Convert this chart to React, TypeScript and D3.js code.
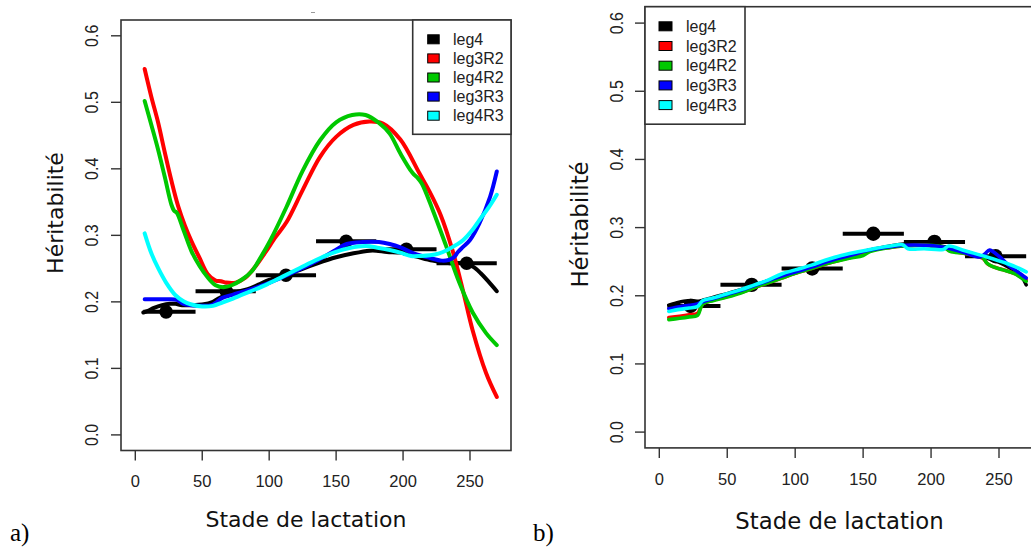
import React from "react";
import * as d3 from "d3";

// ---------- DATA ----------
const xTicks = [0, 50, 100, 150, 200, 250];
const yTicks = [0.0, 0.1, 0.2, 0.3, 0.4, 0.5, 0.6];
const seriesNames = ["leg4", "leg3R2", "leg4R2", "leg3R3", "leg4R3"];
const seriesColors = ["#000000", "#ff0000", "#00c800", "#0000ff", "#00ffff"];

// classes of lactation stage (start, end) with mean heritability estimate
const classStart = [6, 45, 90, 135, 180, 225];
const classEnd = [45, 90, 135, 180, 225, 270];
const classMid = [23, 68, 112.5, 157.5, 202.5, 247.5];
const classH = [0.185, 0.216, 0.24, 0.291, 0.279, 0.258];

// panel a) curves  [day, heritability]
const blackA: [number, number][] = [[6,0.184],[10,0.187],[14,0.191],[20,0.195],[26,0.197],[30,0.197],[35,0.195],[42,0.195],[50,0.196],[58,0.2],[62,0.205],[68,0.211],[76,0.215],[84,0.219],[92,0.226],[100,0.233],[112,0.241],[124,0.249],[136,0.258],[150,0.267],[163,0.273],[175,0.277],[180,0.277],[188,0.275],[198,0.274],[210,0.268],[222,0.262],[235,0.258],[245,0.258],[252,0.253],[258,0.243],[264,0.23],[270,0.216]];
const redA: [number, number][] = [[7,0.55],[12,0.508],[17,0.47],[22,0.425],[27,0.382],[32,0.344],[37,0.315],[42,0.291],[48,0.266],[54,0.242],[60,0.232],[64,0.231],[68,0.229],[75,0.229],[82,0.236],[90,0.254],[97,0.274],[105,0.298],[113,0.32],[125,0.368],[138,0.418],[150,0.448],[163,0.466],[175,0.471],[185,0.468],[198,0.444],[212,0.394],[220,0.365],[228,0.331],[237,0.277],[245,0.215],[252,0.157],[262,0.093],[270,0.057]];
const greenA: [number, number][] = [[7,0.502],[12,0.466],[17,0.429],[22,0.388],[27,0.346],[29,0.337],[31,0.334],[36,0.308],[42,0.276],[48,0.254],[54,0.237],[60,0.225],[66,0.222],[72,0.225],[80,0.234],[87,0.246],[94,0.268],[101,0.293],[113,0.343],[125,0.397],[138,0.443],[150,0.47],[162,0.481],[172,0.481],[182,0.469],[190,0.453],[198,0.423],[207,0.394],[211,0.386],[214,0.378],[222,0.339],[232,0.285],[242,0.229],[252,0.184],[262,0.153],[270,0.135]];
const blueA: [number, number][] = [[7,0.204],[15,0.204],[25,0.204],[31,0.203],[36,0.197],[42,0.195],[50,0.194],[57,0.195],[61,0.2],[65,0.206],[73,0.211],[85,0.218],[98,0.227],[110,0.237],[123,0.249],[135,0.261],[148,0.276],[158,0.287],[170,0.29],[182,0.29],[190,0.287],[198,0.282],[208,0.273],[220,0.266],[229,0.262],[234,0.263],[238,0.267],[241,0.275],[245,0.283],[250,0.293],[257,0.318],[265,0.358],[270,0.396]];
const cyanA: [number, number][] = [[7,0.303],[12,0.273],[17,0.251],[23,0.229],[30,0.21],[36,0.201],[42,0.196],[50,0.193],[58,0.194],[65,0.199],[73,0.205],[85,0.215],[98,0.226],[110,0.238],[123,0.251],[135,0.263],[148,0.274],[160,0.281],[172,0.284],[182,0.281],[190,0.278],[198,0.274],[206,0.269],[213,0.269],[220,0.27],[227,0.273],[233,0.278],[240,0.286],[245,0.293],[251,0.306],[257,0.323],[264,0.342],[270,0.361]];

// panel b) curves
const blackB: [number, number][] = [[7,0.186],[12,0.189],[18,0.192],[24,0.193],[29,0.192],[33,0.194],[40,0.198],[50,0.203],[60,0.209],[70,0.215],[80,0.222],[90,0.229],[100,0.235],[112,0.242],[125,0.25],[140,0.259],[155,0.267],[170,0.273],[180,0.276],[195,0.276],[210,0.272],[225,0.265],[240,0.256],[250,0.249],[258,0.241],[265,0.232],[268,0.224],[270,0.216]];
const redB: [number, number][] = [[7,0.168],[15,0.17],[22,0.172],[28,0.174],[32,0.188],[40,0.194],[50,0.199],[60,0.205],[70,0.212],[80,0.219],[90,0.226],[100,0.233],[112,0.24],[125,0.248],[140,0.256],[150,0.261],[155,0.266],[170,0.271],[180,0.273],[195,0.274],[210,0.27],[214,0.266],[225,0.262],[238,0.255],[242,0.246],[248,0.241],[255,0.237],[262,0.232],[270,0.223]];
const greenB: [number, number][] = [[7,0.165],[15,0.167],[22,0.169],[28,0.171],[32,0.188],[40,0.193],[50,0.198],[60,0.204],[70,0.212],[80,0.219],[90,0.226],[100,0.233],[112,0.24],[125,0.248],[140,0.255],[150,0.259],[155,0.265],[170,0.271],[180,0.273],[195,0.274],[210,0.271],[214,0.265],[225,0.262],[238,0.256],[241,0.248],[245,0.243],[253,0.238],[262,0.232],[270,0.221]];
const blueB: [number, number][] = [[7,0.181],[15,0.184],[22,0.186],[28,0.188],[33,0.192],[40,0.196],[50,0.202],[60,0.208],[70,0.215],[80,0.222],[90,0.229],[100,0.235],[112,0.242],[125,0.251],[140,0.259],[155,0.267],[170,0.272],[180,0.274],[195,0.274],[210,0.271],[225,0.263],[236,0.257],[240,0.262],[243,0.267],[250,0.258],[258,0.243],[264,0.235],[270,0.226]];
const cyanB: [number, number][] = [[7,0.177],[15,0.18],[22,0.182],[28,0.184],[32,0.193],[40,0.197],[50,0.203],[60,0.209],[70,0.216],[80,0.223],[90,0.232],[100,0.238],[112,0.245],[125,0.254],[140,0.262],[155,0.268],[170,0.273],[179,0.275],[183,0.269],[195,0.269],[209,0.268],[213,0.273],[225,0.266],[241,0.257],[255,0.248],[265,0.24],[270,0.235]];

const curvesA = [blackA, redA, greenA, blueA, cyanA];
const curvesB = [blackB, redB, greenB, blueB, cyanB];

// ---------- LAYOUT ----------
type Layout = {
  box: [number, number, number, number]; // x0, x1, y0, y1
  xRange: [number, number];
  yRange: [number, number];
  yTickX: number;
  xTickY: number;
  yTitle: [number, number];
  xTitle: [number, number];
  titleSize: number;
  panel: [number, number, string];
  legend: { x0: number; x1: number; y0: number; y1: number; sx: number; sw: number; sh: number; row0: number; step: number; tx: number };
  lineW: number;
  dotR: number;
};

const layoutA: Layout = {
  box: [121, 511, 20, 450.5],
  xRange: [135.3, 470],
  yRange: [434.9, 35.8],
  yTickX: 92.3,
  xTickY: 480.6,
  yTitle: [55, 213],
  xTitle: [306, 519],
  titleSize: 22,
  panel: [10, 541, "a)"],
  legend: { x0: 412.7, x1: 511, y0: 20, y1: 134.3, sx: 427.7, sw: 11.5, sh: 9, row0: 39.3, step: 19.1, tx: 453 },
  lineW: 4,
  dotR: 6.8,
};

const layoutB: Layout = {
  box: [645, 1045, 6.7, 447.9],
  xRange: [659.3, 999],
  yRange: [432.1, 23.1],
  yTickX: 616.7,
  xTickY: 478.8,
  yTitle: [580, 224.5],
  xTitle: [839.5, 520.9],
  titleSize: 22.8,
  panel: [533, 541, "b)"],
  legend: { x0: 645, x1: 745, y0: 6.7, y1: 124.2, sx: 659, sw: 13, sh: 9, row0: 26.3, step: 19.7, tx: 686 },
  lineW: 3.6,
  dotR: 7.2,
};

const SANS = "'Liberation Sans', Arial, Helvetica, sans-serif";
const DEJAVU = "'DejaVu Sans', Verdana, sans-serif";
const SERIF = "'Liberation Serif', 'Times New Roman', serif";

function Panel({ L, curves }: { L: Layout; curves: [number, number][][] }) {
  const x = d3.scaleLinear().domain([0, 250]).range(L.xRange);
  const y = d3.scaleLinear().domain([0, 0.6]).range(L.yRange);
  const line = d3
    .line<[number, number]>()
    .x((d) => x(d[0]))
    .y((d) => y(d[1]))
    .curve(d3.curveCatmullRom.alpha(0.5));
  const [bx0, bx1, by0, by1] = L.box;
  const lg = L.legend;
  return (
    <g>
      {/* class estimates */}
      {classMid.map((m, i) => (
        <g key={"c" + i}>
          <line x1={x(classStart[i])} x2={x(classEnd[i])} y1={y(classH[i])} y2={y(classH[i])} stroke="#000" strokeWidth={4} />
          <circle cx={x(m)} cy={y(classH[i])} r={L.dotR} fill="#000" />
        </g>
      ))}
      {/* curves */}
      {curves.map((c, i) => (
        <path key={"p" + i} d={line(c) || ""} fill="none" stroke={seriesColors[i]} strokeWidth={L.lineW} strokeLinejoin="round" strokeLinecap="round" />
      ))}
      {/* box */}
      <rect x={bx0} y={by0} width={bx1 - bx0} height={by1 - by0} fill="none" stroke="#333" strokeWidth={1.6} />
      {/* y axis */}
      {yTicks.map((t) => (
        <g key={"y" + t}>
          <line x1={bx0 - 10} x2={bx0} y1={y(t)} y2={y(t)} stroke="#333" strokeWidth={1.4} />
          <text
            transform={`translate(${L.yTickX},${y(t)}) rotate(-90) scale(1,1.12)`}
            textAnchor="middle"
            dominantBaseline="central"
            fontFamily={SANS}
            fontSize={16}
            fill="#222"
          >
            {t.toFixed(1)}
          </text>
        </g>
      ))}
      {/* x axis */}
      {xTicks.map((t) => (
        <g key={"x" + t}>
          <line x1={x(t)} x2={x(t)} y1={by1} y2={by1 + 10} stroke="#333" strokeWidth={1.4} />
          <text x={x(t)} y={L.xTickY} textAnchor="middle" dominantBaseline="central" fontFamily={SANS} fontSize={16.5} fill="#222">
            {t}
          </text>
        </g>
      ))}
      {/* titles */}
      <text
        transform={`translate(${L.yTitle[0]},${L.yTitle[1]}) rotate(-90)`}
        textAnchor="middle"
        dominantBaseline="central"
        fontFamily={DEJAVU}
        fontSize={L.titleSize}
        fill="#111"
      >
        Héritabilité
      </text>
      <text x={L.xTitle[0]} y={L.xTitle[1]} textAnchor="middle" dominantBaseline="central" fontFamily={DEJAVU} fontSize={L.titleSize} fill="#111">
        Stade de lactation
      </text>
      <text x={L.panel[0]} y={L.panel[1]} fontFamily={SERIF} fontSize={25} fill="#000">
        {L.panel[2]}
      </text>
      {/* legend */}
      <rect x={lg.x0} y={lg.y0} width={lg.x1 - lg.x0} height={lg.y1 - lg.y0} fill="#fff" stroke="#333" strokeWidth={1.6} />
      {seriesNames.map((n, i) => (
        <g key={"l" + i}>
          <rect x={lg.sx} y={lg.row0 + i * lg.step - lg.sh / 2} width={lg.sw} height={lg.sh} fill={seriesColors[i]} stroke="#000" strokeWidth={1} />
          <text x={lg.tx} y={lg.row0 + i * lg.step} dominantBaseline="central" fontFamily={SANS} fontSize={16} fill="#222">
            {n}
          </text>
        </g>
      ))}
    </g>
  );
}

export default function App() {
  return (
    <div style={{ position: "absolute", left: 0, top: 0, width: 1031, height: 550, background: "#fff" }}>
      <svg width={1031} height={550} style={{ display: "block" }}>
        <rect x={0} y={0} width={1031} height={550} fill="#fff" />
        <line x1={311} x2={315} y1={12.5} y2={12.5} stroke="#999" strokeWidth={1} />
        <Panel L={layoutA} curves={curvesA} />
        <Panel L={layoutB} curves={curvesB} />
      </svg>
    </div>
  );
}
